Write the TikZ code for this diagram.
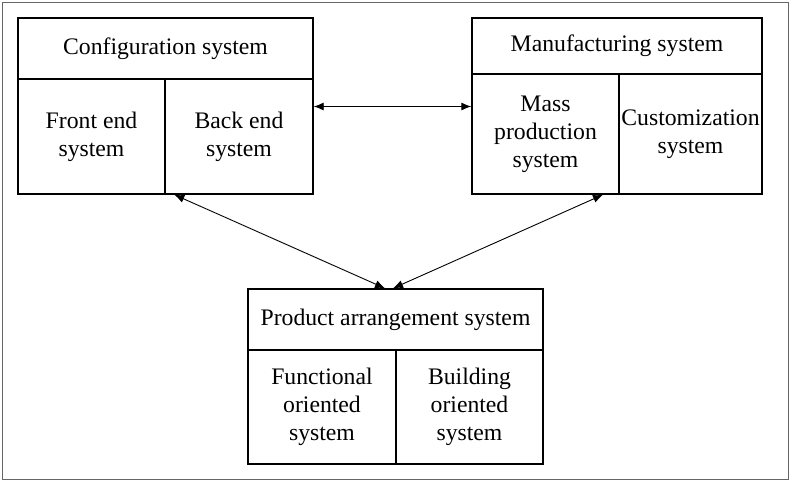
\documentclass[tikz,border=0pt]{standalone}
\usepackage{fontspec}
\setmainfont{Liberation Serif}
\usetikzlibrary{arrows.meta}

\begin{document}
\begin{tikzpicture}[x=1pt,y=-1pt,
        cell/.style={draw,line width=1.4pt,inner sep=1pt,align=center,font=\fontsize{23.7}{28}\selectfont},
        link/.style={{Latex[length=10pt,width=8pt]}-{Latex[length=10pt,width=8pt]},line width=0.9pt}]
        \useasboundingbox (0,0) rectangle (790,482);
        \draw[black!60,line width=1.5pt] (2.5,2.5) rectangle (788.5,479.5);
        % configuration
        \node[cell,minimum width=295pt,minimum height=61pt] (conf) at (165.5,48.5) {Configuration system};
        \node[cell,minimum width=147pt,minimum height=115pt] (front) at (91.5,136.5) {Front end\\system};
        \node[cell,minimum width=148pt,minimum height=115pt] (back) at (239,136.5) {Back end\\system};
        % manufacturing
        \node[cell,minimum width=290pt,minimum height=56pt] (manu) at (617,46) {Manufacturing system};
        \node[cell,minimum width=147pt,minimum height=120pt] (mass) at (545.5,134) {Mass\\production\\system};
        \node[cell,minimum width=143pt,minimum height=120pt] (custom) at (690.5,134) {Customization\\system};
        % product arrangement
        \node[cell,minimum width=295pt,minimum height=61pt] (prod) at (395.5,319.5) {Product arrangement system};
        \node[cell,minimum width=148pt,minimum height=114pt] (func) at (322,407) {Functional\\oriented\\system};
        \node[cell,minimum width=147pt,minimum height=114pt] (build) at (469.5,407) {Building\\oriented\\system};

        % arrows
        \draw[link] ([yshift=30pt]back.east) -- ([yshift=30pt]back.east -| mass.west);
        \draw[link] ([xshift=10pt]back.south west) -- ([xshift=-10.5pt]prod.north);
        \draw[link] ([xshift=-2.5pt]prod.north) -- ([xshift=57.5pt]mass.south);
\end{tikzpicture}
\end{document}
